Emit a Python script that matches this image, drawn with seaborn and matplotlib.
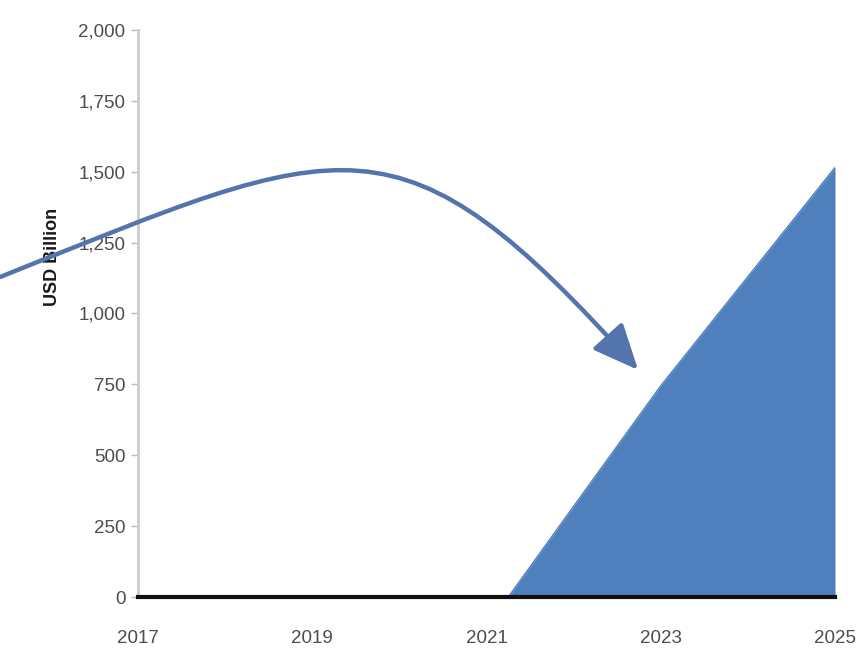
import numpy as np
import pandas as pd
import matplotlib
matplotlib.use("Agg")
import matplotlib.pyplot as plt
import seaborn as sns
from matplotlib.path import Path
from matplotlib.patches import FancyArrowPatch

# ---- data ----
years = [2021.25, 2022, 2023, 2024, 2025]
values = [0, 320, 745, 1130, 1515]
x_ticks = [2017, 2019, 2021, 2023, 2025]
y_ticks = [0, 250, 500, 750, 1000, 1250, 1500, 1750, 2000]
y_label = "USD Billion"

# arrow guide (data coords: start, control1, control2, tip)
arrow_x = [2015.42, 2019.4, 2020.0, 2022.74]
arrow_y = [1129, 1620, 1740, 801]

df = pd.DataFrame({"year": years, "value": values})

sns.set_theme(style="white")
plt.rcParams["font.family"] = ["Liberation Sans", "DejaVu Sans"]

fig = plt.figure(figsize=(8.62, 6.50), dpi=100)
ax = fig.add_axes([138 / 862, 1 - 597 / 650, (835 - 138) / 862, (597 - 30) / 650])

fill_color = "#4F7FBD"
ax.fill_between(df["year"], 0, df["value"], color=fill_color, lw=0, zorder=2)
sns.lineplot(data=df, x="year", y="value", ax=ax, color=fill_color, lw=1, zorder=3)

ax.set_xlim(2017, 2025)
ax.set_ylim(0, 2000)
ax.set_xticks(x_ticks)
ax.set_xticklabels([str(v) for v in x_ticks])
ax.set_yticks(y_ticks)
ax.set_yticklabels([f"{v:,}" for v in y_ticks])
ax.set_xlabel("")
ax.set_ylabel(y_label, fontsize=13, fontweight="bold", color="#1a1a1a")
ax.yaxis.set_label_coords(-0.11, 0.60)

ax.tick_params(axis="y", which="major", length=5, width=1, color="#bbbbbb",
               pad=4, labelsize=13.5, labelcolor="#4d4d4d", left=True, direction="out")
ax.tick_params(axis="x", which="major", length=0, pad=24, labelsize=13.5,
               labelcolor="#4d4d4d", bottom=False)

for s in ["top", "right"]:
    ax.spines[s].set_visible(False)
ax.spines["left"].set_color("#cccccc")
ax.spines["left"].set_linewidth(2)
ax.spines["bottom"].set_color("#111111")
ax.spines["bottom"].set_linewidth(3)
ax.spines["bottom"].set_zorder(5)
ax.grid(False)

verts = list(zip(arrow_x, arrow_y))
codes = [Path.MOVETO, Path.CURVE4, Path.CURVE4, Path.CURVE4]
arrow = FancyArrowPatch(path=Path(verts, codes),
                        arrowstyle="-|>,head_length=1.4,head_width=0.62",
                        mutation_scale=20, color="#5374ad", lw=3.2,
                        clip_on=False, zorder=6)
ax.add_patch(arrow)

fig.savefig("out.png", dpi=100)
